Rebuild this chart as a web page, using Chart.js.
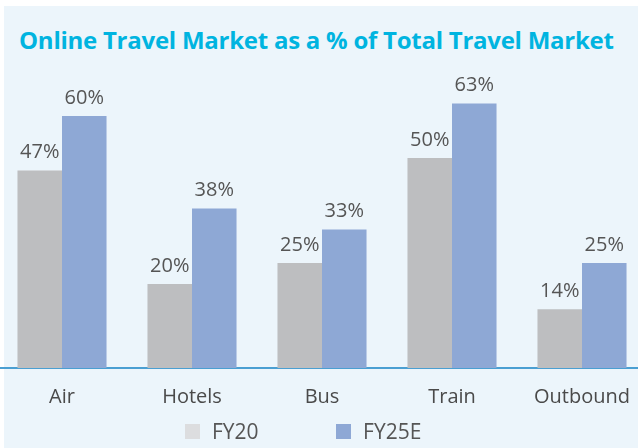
<!DOCTYPE html>
<html>
<head>
<meta charset="utf-8">
<script src="https://cdn.jsdelivr.net/npm/chart.js@4"></script>
<style>
  html, body { margin: 0; padding: 0; background: #ffffff; overflow: hidden; }
  body { width: 638px; height: 448px; position: relative; font-family: "Open Sans", sans-serif; }
  .panel { position: absolute; left: 4px; top: 6px; width: 634px; height: 442px; background: #ecf5fb; }
  .title { position: absolute; left: 19px; top: 23px; font: bold 24px "Open Sans", sans-serif; color: #00b4e0; white-space: nowrap; letter-spacing: -0.25px; }
  .wrap { position: absolute; left: -3px; top: 0; width: 650px; height: 448px; }
  .legend { position: absolute; top: 415px; left: 185px; font-size: 21px; color: #555; }
  .legend span { display: inline-block; vertical-align: middle; }
  .legend .box { width: 15px; height: 15px; margin-right: 12px; }
</style>
</head>
<body>
<div class="panel"></div>
<div class="title">Online Travel Market as a % of Total Travel Market</div>
<div class="wrap"><canvas id="chart"></canvas></div>
<div class="legend">
  <span class="box" style="background:#dcdddf"></span><span>FY20</span>
  <span class="box" style="background:#8ea8d5; margin-left:72px"></span><span>FY25E</span>
</div>
<script>
// categorias e valores (em %)
const categories = ['Air', 'Hotels', 'Bus', 'Train', 'Outbound'];
const fy20 = [47, 20, 25, 50, 14];
const fy25e = [60, 38, 33, 63, 25];

// rótulos de valor acima das barras
const valueLabels = {
  id: 'valueLabels',
  afterDatasetsDraw(chart) {
    const ctx = chart.ctx;
    ctx.save();
    ctx.font = '20px "Open Sans"';
    ctx.fillStyle = '#555555';
    ctx.textAlign = 'center';
    ctx.textBaseline = 'bottom';
    chart.data.datasets.forEach((ds, i) => {
      chart.getDatasetMeta(i).data.forEach((bar, j) => {
        ctx.fillText(ds.data[j] + '%', bar.x, bar.y - 8);
      });
    });
    ctx.restore();
  }
};

const ctx = document.getElementById('chart').getContext('2d');
new Chart(ctx, {
  type: 'bar',
  data: {
    labels: categories,
    datasets: [
      { label: 'FY20', data: fy20, backgroundColor: '#bdbec0' },
      { label: 'FY25E', data: fy25e, backgroundColor: '#8ea8d5' }
    ]
  },
  options: {
    responsive: true,
    maintainAspectRatio: false,
    animation: false,
    layout: { padding: { top: 74, left: 0, right: 0, bottom: 0 } },
    datasets: { bar: { categoryPercentage: 0.685, barPercentage: 1 } },
    plugins: { legend: { display: false }, tooltip: { enabled: false } },
    scales: {
      x: {
        grid: { display: false },
        border: { display: true, color: '#4a9fd2', width: 2 },
        ticks: { color: '#4a4a4a', font: { family: 'Open Sans', size: 20 }, padding: 9 },
        afterFit(scale) { scale.height = 80; }
      },
      y: {
        display: false,
        min: 0,
        max: 70
      }
    }
  },
  plugins: [valueLabels]
});
</script>
</body>
</html>
